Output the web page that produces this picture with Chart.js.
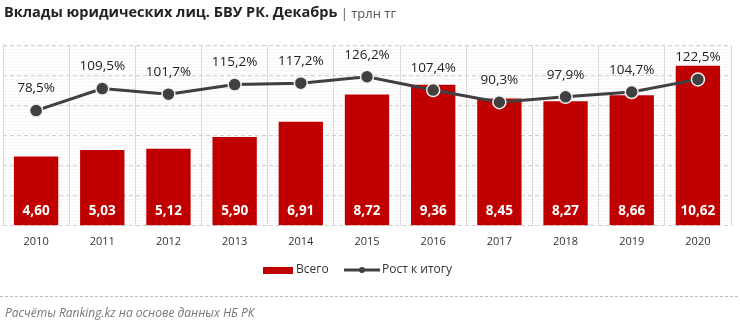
<!DOCTYPE html>
<html><head><meta charset="utf-8">
<script src="https://cdn.jsdelivr.net/npm/chart.js@4/dist/chart.umd.min.js"></script>
<style>
html,body{margin:0;padding:0;background:#fff;}
#wrap{position:relative;width:740px;height:328px;}
</style></head>
<body><div id="wrap"><canvas id="c" width="740" height="328"></canvas></div>
<script>
const titleMain = "Вклады юридических лиц. БВУ РК. Декабрь";
const titleUnit = " | трлн тг";
const footerText = "Расчёты Ranking.kz на основе данных НБ РК";
const years = ["2010","2011","2012","2013","2014","2015","2016","2017","2018","2019","2020"];
const totals = [4.60,5.03,5.12,5.90,6.91,8.72,9.36,8.45,8.27,8.66,10.62];
const growth = [78.5,109.5,101.7,115.2,117.2,126.2,107.4,90.3,97.9,104.7,122.5];
const seriesNames = ["Всего","Рост к итогу"];

const FONT = "'Open Sans', 'Noto Sans', sans-serif";
const fmt = (v, d) => v.toFixed(d).replace('.', ',');

const decor = {
  id: 'decor',
  beforeDraw(chart) {
    const {ctx, chartArea: a} = chart;
    ctx.save();
    ctx.strokeStyle = 'rgba(0,0,0,0.035)';
    ctx.lineWidth = 1;
    for (let y = a.top + 1.5; y < a.bottom; y += 3) {
      ctx.beginPath(); ctx.moveTo(a.left, y); ctx.lineTo(a.right, y); ctx.stroke();
    }
    ctx.restore();
  },
  afterDraw(chart) {
    const {ctx} = chart;
    ctx.save();
    // title
    ctx.textBaseline = 'middle';
    ctx.font = "bold 14.5px " + FONT;
    ctx.fillStyle = '#222';
    ctx.fillText(titleMain, 4, 13);
    const w = ctx.measureText(titleMain).width;
    ctx.font = "13px " + FONT;
    ctx.fillStyle = '#555';
    ctx.fillText(titleUnit, 4 + w, 14);
    // labels
    const bm = chart.getDatasetMeta(0);
    ctx.textAlign = 'center';
    ctx.font = "bold 13.5px " + FONT;
    ctx.fillStyle = '#fff';
    bm.data.forEach((el, i) => {
      ctx.fillText(fmt(totals[i], 2), el.x, chart.chartArea.bottom - 15);
    });
    const lm = chart.getDatasetMeta(1);
    ctx.font = "13.5px " + FONT;
    ctx.fillStyle = '#222';
    lm.data.forEach((el, i) => {
      ctx.fillText(fmt(growth[i], 1) + '%', el.x, el.y - 22);
    });
    // legend
    ctx.textAlign = 'left';
    ctx.fillStyle = '#c00000';
    ctx.fillRect(263, 267, 30, 7);
    ctx.fillStyle = '#333';
    ctx.font = "12px " + FONT;
    ctx.fillText(seriesNames[0], 296, 270);
    ctx.strokeStyle = '#404040';
    ctx.lineWidth = 3;
    ctx.beginPath(); ctx.moveTo(344, 270); ctx.lineTo(380, 270); ctx.stroke();
    ctx.fillStyle = '#404040';
    ctx.beginPath(); ctx.arc(362, 270, 3, 0, Math.PI * 2); ctx.fill();
    ctx.fillStyle = '#333';
    ctx.fillText(seriesNames[1], 382, 270);
    // separator
    ctx.strokeStyle = '#bbb';
    ctx.lineWidth = 1;
    ctx.setLineDash([3, 2]);
    ctx.beginPath(); ctx.moveTo(0, 296.5); ctx.lineTo(740, 296.5); ctx.stroke();
    ctx.setLineDash([]);
    // footer
    ctx.font = "italic 12px " + FONT;
    ctx.fillStyle = '#777';
    ctx.fillText(footerText, 5, 314);
    ctx.restore();
  }
};

new Chart(document.getElementById('c'), {
  type: 'bar',
  data: {
    labels: years,
    datasets: [
      {
        type: 'bar', label: seriesNames[0], data: totals, yAxisID: 'y',
        backgroundColor: '#c00000', borderWidth: 0,
        categoryPercentage: 1.0, barPercentage: 0.67, order: 2
      },
      {
        type: 'line', label: seriesNames[1], data: growth, yAxisID: 'y2',
        borderColor: '#404040', borderWidth: 3, tension: 0,
        pointRadius: 6.5, pointBackgroundColor: '#404040',
        pointBorderColor: '#f2f2f2', pointBorderWidth: 1.5, order: 1
      }
    ]
  },
  plugins: [decor],
  options: {
    responsive: false, animation: false,
    devicePixelRatio: 1,
    layout: {autoPadding: false, padding: {left: 3, right: 9, top: 45, bottom: 71}},
    plugins: {legend: {display: false}, tooltip: {enabled: false}, title: {display: false}},
    scales: {
      x: {
        grid: {display: true, offset: true, color: '#d9d9d9', drawTicks: false},
        border: {display: false},
        ticks: {color: '#333', font: {size: 11, family: FONT}, padding: 9}
      },
      y: {
        min: 0, max: 12,
        ticks: {display: false, stepSize: 2},
        grid: {color: '#cfcfcf', drawTicks: false, tickLength: 0},
        border: {display: false, dash: [4, 3]},
        afterFit(s) { s.width = 0; }
      },
      y2: {
        display: false, min: -84, max: 171
      }
    }
  }
});
</script></body></html>
